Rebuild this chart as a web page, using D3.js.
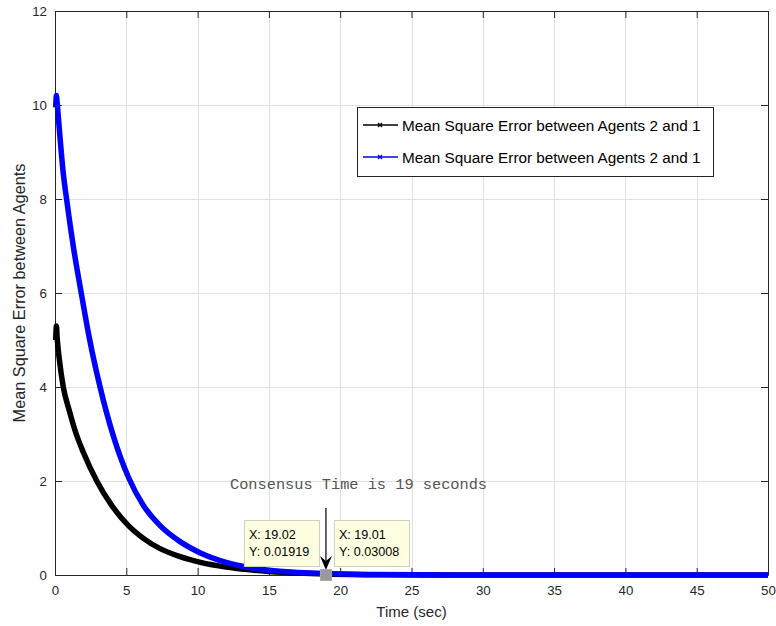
<!DOCTYPE html>
<html>
<head>
<meta charset="utf-8">
<script src="https://cdn.jsdelivr.net/npm/d3@7.9.0/dist/d3.min.js"></script>
<style>
  body { margin: 0; background: #fff; }
  svg { display: block; font-family: "Liberation Sans", Arial, sans-serif; }
</style>
</head>
<body>
<script>
// series: time (sec) and mean square error
const blackT = [0.05, 0.1, 0.15, 0.3, 0.58, 1.0, 1.4, 2.0, 2.93, 4.0, 5.15, 6.2, 7.37, 8.77, 10.2, 12, 13.5, 15, 17, 19, 22, 26, 30, 40, 50];
const blackV = [5.0, 5.3, 5.05, 4.6, 4.0, 3.5, 3.08, 2.6, 2.0, 1.47, 1.05, 0.78, 0.56, 0.39, 0.27, 0.17, 0.115, 0.075, 0.04, 0.019, 0.007, 0.002, 0.0005, 0, 0];

const blueT = [0.05, 0.1, 0.15, 0.3, 0.58, 0.82, 1.28, 1.87, 2.41, 3.16, 4.1, 5.15, 6.2, 7.37, 8.77, 10.2, 12, 13.5, 15, 17, 19, 22, 26, 30, 40, 50];
const blueV = [9.95, 10.2, 10.05, 9.5, 8.55, 7.98, 7.0, 5.95, 5.04, 4.0, 2.95, 2.08, 1.48, 1.05, 0.71, 0.47, 0.27, 0.165, 0.1, 0.055, 0.03, 0.012, 0.004, 0.001, 0, 0];

const xTicks = [0, 5, 10, 15, 20, 25, 30, 35, 40, 45, 50];
const yTicks = [0, 2, 4, 6, 8, 10, 12];

const legendLabels = ["Mean Square Error between Agents 2 and 1", "Mean Square Error between Agents 2 and 1"];
const legendColors = ["#000000", "#0000ff"];

// data tips
const tipX = [19.02, 19.01];
const tipY = [0.01919, 0.03008];
const consensusT = 19;

const W = 776, H = 626;
const margin = { top: 11, right: 8, bottom: 51, left: 55 };

const svg = d3.select("body").append("svg")
    .attr("width", W)
    .attr("height", H);

const x = d3.scaleLinear().domain([0, 50]).range([margin.left, W - margin.right]);
const y = d3.scaleLinear().domain([0, 12]).range([H - margin.bottom, margin.top]);

// grid
svg.append("g").selectAll("line")
    .data(xTicks.slice(1, -1))
    .enter().append("line")
    .attr("x1", d => Math.round(x(d)) + 0.5).attr("x2", d => Math.round(x(d)) + 0.5)
    .attr("y1", y(12)).attr("y2", y(0))
    .attr("stroke", "#e0e0e0");

svg.append("g").selectAll("line")
    .data(yTicks.slice(1, -1))
    .enter().append("line")
    .attr("y1", d => Math.round(y(d)) + 0.5).attr("y2", d => Math.round(y(d)) + 0.5)
    .attr("x1", x(0)).attr("x2", x(50))
    .attr("stroke", "#e0e0e0");

// axes (ticks point inward, box on)
function styleAxis(g) {
    g.selectAll("path").attr("stroke", "#262626");
    g.selectAll("line").attr("stroke", "#262626");
    g.selectAll("text").attr("fill", "#262626").style("font-size", "13.3px");
}

svg.append("g")
    .attr("transform", `translate(0,${y(0)})`)
    .call(d3.axisBottom(x).tickValues(xTicks).tickSize(-7).tickSizeOuter(0).tickPadding(11))
    .call(styleAxis);

svg.append("g")
    .attr("transform", `translate(${x(0)},0)`)
    .call(d3.axisLeft(y).tickValues(yTicks).tickSize(-7).tickSizeOuter(0).tickPadding(8))
    .call(styleAxis);

svg.append("g")
    .attr("transform", `translate(0,${y(12)})`)
    .call(d3.axisTop(x).tickValues(xTicks).tickSize(-7).tickSizeOuter(0).tickFormat(""))
    .call(styleAxis);

svg.append("g")
    .attr("transform", `translate(${x(50)},0)`)
    .call(d3.axisRight(y).tickValues(yTicks).tickSize(-7).tickSizeOuter(0).tickFormat(""))
    .call(styleAxis);

// lines
const line = d3.line()
    .x(d => x(d[0]))
    .y(d => y(d[1]))
    .curve(d3.curveMonotoneX);

svg.append("path")
    .datum(d3.zip(blackT, blackV))
    .attr("fill", "none")
    .attr("stroke", "#000")
    .attr("stroke-width", 5.5)
    .attr("d", line);

svg.append("path")
    .datum(d3.zip(blueT, blueV))
    .attr("fill", "none")
    .attr("stroke", "#0000ff")
    .attr("stroke-width", 5.5)
    .attr("d", line);

// axis labels
svg.append("text")
    .attr("x", (x(0) + x(50)) / 2)
    .attr("y", 617)
    .attr("text-anchor", "middle")
    .attr("fill", "#262626")
    .style("font-size", "15px")
    .text("Time (sec)");

svg.append("text")
    .attr("transform", `translate(25,${(y(0) + y(12)) / 2}) rotate(-90)`)
    .attr("text-anchor", "middle")
    .attr("fill", "#262626")
    .style("font-size", "16.3px")
    .text("Mean Square Error between Agents");

// legend
const legend = svg.append("g").attr("transform", "translate(357,107)");
legend.append("rect")
    .attr("x", 0.5).attr("y", 0.5)
    .attr("width", 356).attr("height", 69)
    .attr("fill", "#fff")
    .attr("stroke", "#262626");

legendLabels.forEach((lab, i) => {
    const ly = 18 + i * 32;
    legend.append("line")
        .attr("x1", 6).attr("x2", 41)
        .attr("y1", ly).attr("y2", ly)
        .attr("stroke", legendColors[i])
        .attr("stroke-width", 1.5);
    legend.append("path")
        .attr("d", `M${21},${ly - 2}L${25},${ly + 2}M${21},${ly + 2}L${25},${ly - 2}`)
        .attr("stroke", legendColors[i])
        .attr("stroke-width", 1.2);
    legend.append("text")
        .attr("x", 45)
        .attr("y", ly + 5.5)
        .attr("fill", "#000")
        .style("font-size", "15.3px")
        .text(lab);
});

// consensus annotation
const cx = x(consensusT);
svg.append("text")
    .attr("x", 230)
    .attr("y", 489)
    .attr("fill", "#555")
    .style("font-family", "'Liberation Mono', 'Courier New', monospace")
    .style("font-size", "15.3px")
    .text("Consensus Time is 19 seconds");

svg.append("line")
    .attr("x1", cx).attr("x2", cx)
    .attr("y1", 508).attr("y2", y(0) - 14)
    .attr("stroke", "#000")
    .attr("stroke-width", 1.2);
svg.append("path")
    .attr("d", `M${cx - 6},${y(0) - 19}L${cx},${y(0) - 5}L${cx + 6},${y(0) - 19}L${cx},${y(0) - 14}Z`)
    .attr("fill", "#000");

// data tip marker
svg.append("rect")
    .attr("x", cx - 5.5).attr("y", y(0) - 5.5)
    .attr("width", 11).attr("height", 11)
    .attr("fill", "#999")
    .attr("stroke", "#aaa");

// data tips
const tipBoxes = [
    { left: cx - 82, top: y(0) - 55 },
    { left: cx + 8, top: y(0) - 55 }
];
tipBoxes.forEach((b, i) => {
    const g = svg.append("g").attr("transform", `translate(${b.left},${b.top})`);
    g.append("rect")
        .attr("x", 0.5).attr("y", 0.5)
        .attr("width", 75).attr("height", 46)
        .attr("fill", "#ffffe1")
        .attr("stroke", "#d0d0c0");
    g.append("text")
        .attr("x", 5).attr("y", 19)
        .attr("fill", "#000")
        .style("font-size", "12.6px")
        .text("X: " + tipX[i]);
    g.append("text")
        .attr("x", 5).attr("y", 36)
        .attr("fill", "#000")
        .style("font-size", "12.6px")
        .text("Y: " + tipY[i]);
});
</script>
</body>
</html>
